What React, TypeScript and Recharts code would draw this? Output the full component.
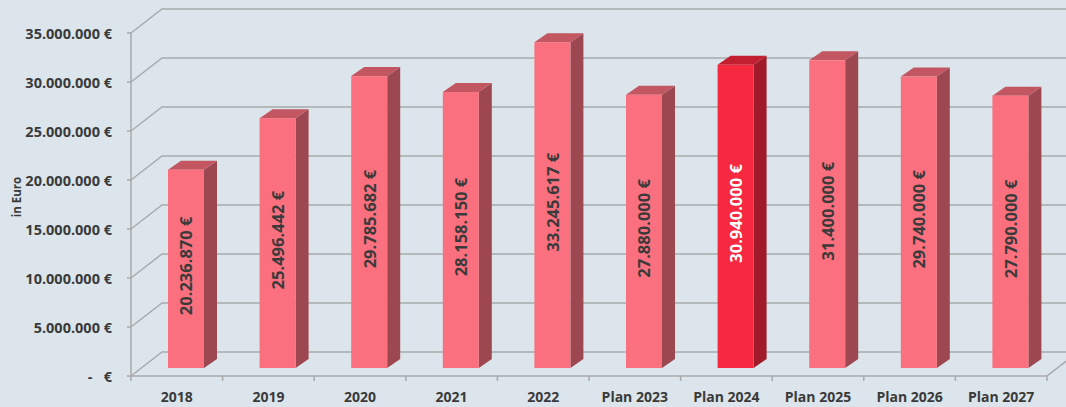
import React from 'react';
import { BarChart, Bar, XAxis, YAxis, CartesianGrid } from 'recharts';

const categories = ['2018', '2019', '2020', '2021', '2022', 'Plan 2023', 'Plan 2024', 'Plan 2025', 'Plan 2026', 'Plan 2027'];
const revenue = [20236870, 25496442, 29785682, 28158150, 33245617, 27880000, 30940000, 31400000, 29740000, 27790000];
const yTicks = [0, 5000000, 10000000, 15000000, 20000000, 25000000, 30000000, 35000000];
const highlighted = 'Plan 2024';

const data = categories.map((name, i) => ({ name, value: revenue[i] }));

const W = 1066;
const H = 407;
const PLOT_LEFT = 131;
const PLOT_RIGHT = 1047;
const PLOT_TOP = 33;
const PLOT_BOTTOM = 376;
const BAND = (PLOT_RIGHT - PLOT_LEFT) / categories.length;

// depth of the "3d" walls and of each bar
const WALL_DX = 31;
const WALL_DY = -24;
const BAR_SHIFT_X = 9;
const BAR_SHIFT_Y = -8;
const BAR_DX = 13;
const BAR_DY = -9;

const BG = '#dbe5eb';
const GRID = '#a8aaac';
const FONT = '"Open Sans", sans-serif';
const TEXT = '#3a3a3a';

const fmt = (v: number) =>
  v === 0 ? '-   €' : String(v).replace(/\B(?=(\d{3})+(?!\d))/g, '.') + ' €';

const GridLine = (props: any) => {
  const { x1, y1, x2, y2 } = props;
  let d = `M${x1},${y1} L${x1 + WALL_DX},${y1 + WALL_DY} L${x2 + WALL_DX},${y2 + WALL_DY}`;
  if (Math.abs(y1 - PLOT_BOTTOM) < 1) {
    d += ` M${x2},${y2} L${x2 + WALL_DX},${y2 + WALL_DY}`;
  }
  return <path key={props.key} d={d} stroke={GRID} strokeWidth={1.5} fill="none" />;
};

const Bar3D = (props: any) => {
  const { x, y, width, height, payload } = props;
  const hot = payload.name === highlighted;
  const front = hot ? '#f52a40' : '#fa707e';
  const side = hot ? '#a11a2a' : '#9d4750';
  const top = hot ? '#c22030' : '#c25661';
  const bx = x + BAR_SHIFT_X;
  const by = y + BAR_SHIFT_Y;
  const cx = bx + width / 2;
  const cy = by + height / 2 - 3;
  return (
    <g>
      <polygon
        points={`${bx + width},${by} ${bx + width + BAR_DX},${by + BAR_DY} ${bx + width + BAR_DX},${by + height + BAR_DY} ${bx + width},${by + height}`}
        fill={side}
      />
      <polygon
        points={`${bx},${by} ${bx + BAR_DX},${by + BAR_DY} ${bx + width + BAR_DX},${by + BAR_DY} ${bx + width},${by}`}
        fill={top}
      />
      <rect x={bx} y={by} width={width} height={height} fill={front} />
      <text
        x={cx}
        y={cy}
        transform={`rotate(-90 ${cx} ${cy})`}
        textAnchor="middle"
        dominantBaseline="central"
        fontFamily={FONT}
        fontWeight={700}
        fontSize={16.5}
        fill={hot ? '#ffffff' : TEXT}
      >
        {fmt(payload.value)}
      </text>
    </g>
  );
};

const YTick = (props: any) => {
  const { y, payload } = props;
  return (
    <g>
      <line x1={PLOT_LEFT - 4} y1={y} x2={PLOT_LEFT} y2={y} stroke={GRID} strokeWidth={1.5} />
      <text
        x={112}
        y={y}
        textAnchor="end"
        dominantBaseline="central"
        fontFamily={FONT}
        fontWeight={700}
        fontSize={14.5}
        fill={TEXT}
        style={{ whiteSpace: 'pre' }}
      >
        {fmt(payload.value)}
      </text>
    </g>
  );
};

const XTick = (props: any) => {
  const { x, payload, index } = props;
  return (
    <g>
      <line x1={x - BAND / 2} y1={PLOT_BOTTOM} x2={x - BAND / 2} y2={PLOT_BOTTOM + 5} stroke={GRID} strokeWidth={1.5} />
      {index === categories.length - 1 && (
        <line x1={x + BAND / 2} y1={PLOT_BOTTOM} x2={x + BAND / 2} y2={PLOT_BOTTOM + 5} stroke={GRID} strokeWidth={1.5} />
      )}
      <text
        x={x}
        y={PLOT_BOTTOM + 20}
        textAnchor="middle"
        dominantBaseline="central"
        fontFamily={FONT}
        fontWeight={700}
        fontSize={14}
        fill={TEXT}
      >
        {payload.value}
      </text>
    </g>
  );
};

export default function App() {
  return (
    <div style={{ position: 'absolute', left: 0, top: 0, width: W, height: H, background: BG }}>
      <BarChart
        width={W}
        height={H}
        data={data}
        margin={{ top: PLOT_TOP, right: W - PLOT_RIGHT, left: 0, bottom: 0 }}
      >
        <CartesianGrid horizontal={GridLine} vertical={false} />
        <XAxis
          dataKey="name"
          height={H - PLOT_BOTTOM}
          axisLine={{ stroke: GRID, strokeWidth: 1.5 }}
          tickLine={false}
          tick={XTick}
          interval={0}
        />
        <YAxis
          width={PLOT_LEFT}
          domain={[0, 35000000]}
          ticks={yTicks}
          axisLine={{ stroke: GRID, strokeWidth: 1.5 }}
          tickLine={false}
          tick={YTick}
          label={{
            content: () => (
              <text
                x={16}
                y={197}
                transform="rotate(-90 16 197)"
                textAnchor="middle"
                dominantBaseline="central"
                fontFamily={FONT}
                fontWeight={700}
                fontSize={11.5}
                fill={TEXT}
              >
                in Euro
              </text>
            ),
          }}
        />
        <Bar dataKey="value" barSize={36} shape={Bar3D} isAnimationActive={false} />
      </BarChart>
    </div>
  );
}
